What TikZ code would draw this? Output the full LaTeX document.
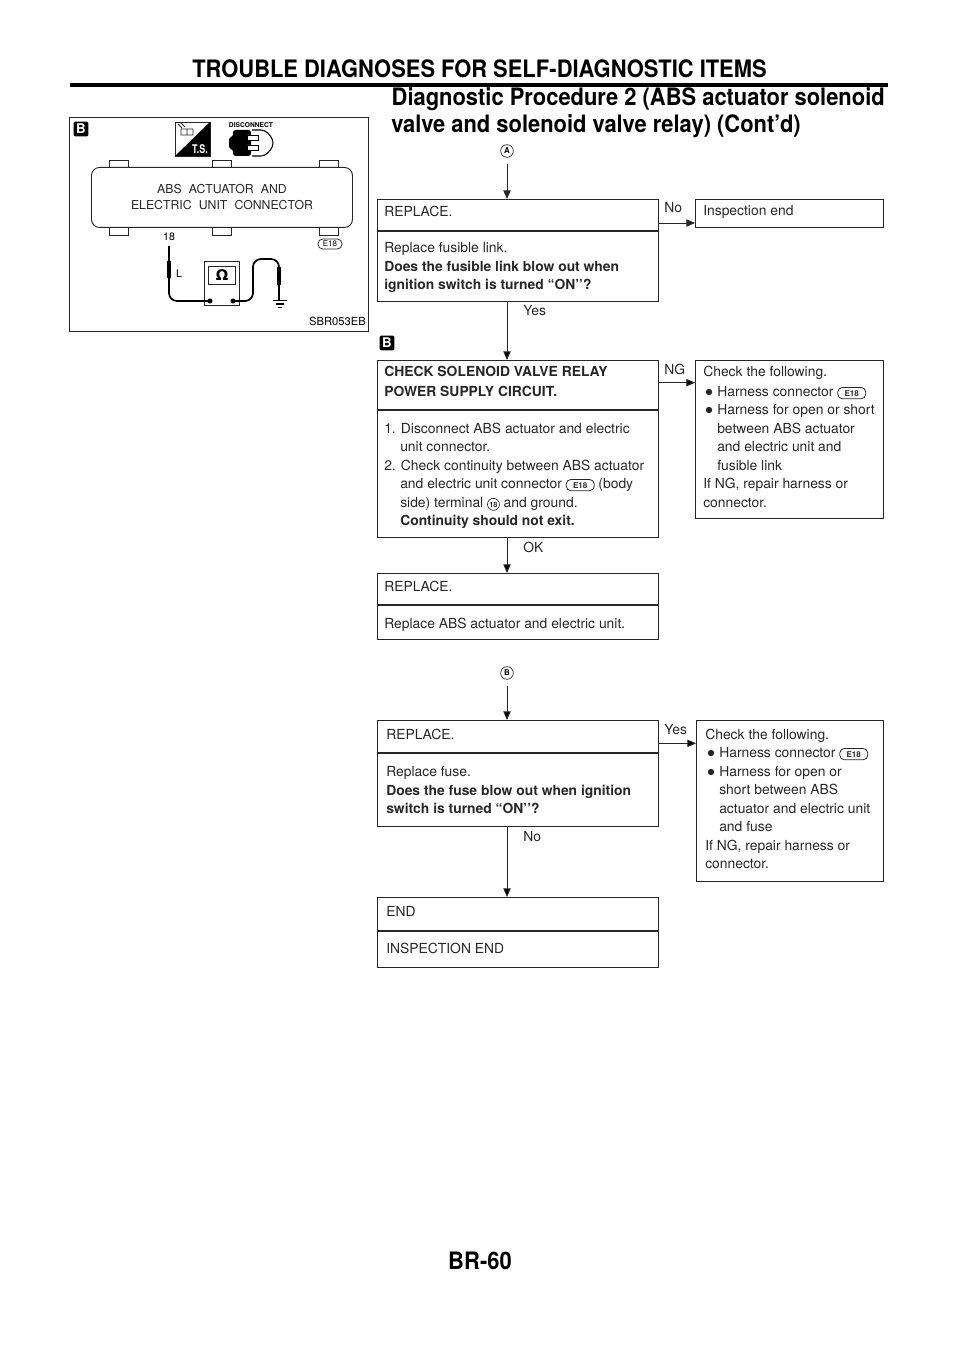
\documentclass[tikz,border=0pt]{standalone}
\usepackage{fontspec}
\setmainfont{TeX Gyre Heros}
\setsansfont{TeX Gyre Heros}
\newfontfamily\symfont{DejaVu Sans}
\usetikzlibrary{arrows.meta}
\tikzset{>=stealth}
\definecolor{inkgray}{gray}{0.15}
\tikzset{
	flowbox/.style 2 args = {draw = inkgray, line width = 0.8pt, inner sep = 0pt, anchor = north west, minimum width = (#1-1)*0.75pt, minimum height = (#2-1)*0.75pt},
	flowline/.style = {draw = inkgray, line width = 0.8pt},
	flowarrow/.style = {draw = inkgray, line width = 0.7pt, -{Triangle[length = 6.5pt, width = 5.5pt]}},
	txt/.style = {inner sep = 0pt, anchor = base west, align = left, text = inkgray, font = \fontsize{10.4}{13.8}\selectfont},
	boldtxt/.style = {txt, font = \fontsize{10.4}{13.8}\selectfont\bfseries},
	headtxt/.style = {inner sep = 0pt, text = black, font = \fontsize{18}{20}\selectfont\bfseries},
	circlemark/.style = {draw = inkgray, circle, line width = 0.5pt, inner sep = 0pt, minimum size = 9.5pt, font = \fontsize{6}{6}\selectfont\bfseries},
	blockmark/.style = {fill = black, rounded corners = 1pt, inner sep = 0pt, minimum size = 11pt, text = white, font = \fontsize{10}{10}\selectfont\bfseries},
	lead/.style = {draw = black, line width = 1.3pt, rounded corners = 6pt},
	sleeve/.style = {draw = black, line width = 3.6pt},
	tab/.style = {draw = inkgray, line width = 0.6pt}
}
\newcommand{\connbadge}{\tikz[baseline = (e.base)] \node[draw = inkgray, rounded corners = 3.5pt, line width = 0.6pt, inner sep = 0pt, minimum width = 21pt, minimum height = 8.5pt, font = \fontsize{6}{6}\selectfont\bfseries] (e) {E18};}
\newcommand{\termmark}{\tikz[baseline = (t.base)] \node[draw = inkgray, circle, line width = 0.5pt, inner sep = 0pt, minimum size = 9pt, font = \fontsize{5.5}{5.5}\selectfont\bfseries] (t) {18};}
\newcommand{\narrowhead}[1]{\scalebox{0.913}[1]{#1}}
\begin{document}
\begin{tikzpicture}[x = 0.75pt, y = -0.75pt]
	\useasboundingbox (0,0) rectangle (960,1358);
	% page heading
	\node[headtxt, anchor = base] (title) at (479.5,78) {\narrowhead{TROUBLE DIAGNOSES FOR SELF-DIAGNOSTIC ITEMS}};
	\fill (70,83) rectangle (888,87);
	\node[headtxt, anchor = base east] (procA) at (885,106) {\narrowhead{Diagnostic Procedure 2 (ABS actuator solenoid}};
	\node[headtxt, anchor = base west] (procB) at (391,133) {\narrowhead{valve and solenoid valve relay) (Cont'd)}};
	\node[headtxt, anchor = base] (pageno) at (480,1269) {\narrowhead{BR-60}};
	% illustration
	\node[flowbox = {300}{215}, line width = 0.7pt] (illus) at (69,117) {};
	\node[blockmark] (illusmark) at (81,129) {B};
	\draw[inkgray, line width = 0.6pt] (175,122) rectangle (210,156);
	\fill (210,122) -- (210,156) -- (175,156) -- cycle;
	\node[inner sep = 0pt, text = white, font = \fontsize{9}{9}\selectfont\bfseries] (tsmark) at (200,149) {\scalebox{0.75}[1]{T.S.}};
	\draw[inkgray, line width = 0.6pt] (181,129) rectangle (187,135) (187,129) rectangle (193,135) (178,124) -- (182,128) (181,123) -- (185,127);
	\node[inner sep = 0pt, font = \fontsize{5}{5}\selectfont\bfseries] (disc) at (251,125) {DISCONNECT};
	\fill[rounded corners = 2pt] (233,130) -- (251,130) -- (251,156) -- (233,156) -- (233,149) -- (229,149) -- (229,137) -- (233,137) -- cycle;
	\draw[black, line width = 0.8pt, rounded corners = 3pt] (252,130) -- (265,130) -- (273,139) -- (273,147) -- (265,156) -- (252,156);
	\draw[black, fill = white, line width = 0.6pt] (247,135) rectangle (258,140) (247,145) rectangle (258,150);
	\foreach \tabx in {109,212,319}
	{
		\draw[tab] (\tabx,167) -- (\tabx,160.5) -- ++(19.5,0) -- (\tabx+19.5,167);
		\draw[tab] (\tabx,228) -- (\tabx,235) -- ++(19.5,0) -- (\tabx+19.5,228);
	}
	\node[flowbox = {262}{61}, rounded corners = 6pt, line width = 0.7pt] (unit) at (91,167) {};
	\node[inner sep = 0pt, align = center, text = inkgray, font = \fontsize{9.2}{12}\selectfont] (unitlabel) at (222,197) {ABS\hspace{0.3em} ACTUATOR\hspace{0.3em} AND\\ELECTRIC\hspace{0.3em} UNIT\hspace{0.3em} CONNECTOR};
	\node[inner sep = 0pt, font = \fontsize{8}{8}\selectfont] (pinlabel) at (169,237) {18};
	\node[inner sep = 0pt, font = \fontsize{8}{8}\selectfont] (wirelabel) at (179,274) {L};
	\node[draw = inkgray, rounded corners = 3.5pt, line width = 0.6pt, inner sep = 0pt, minimum width = 18pt, minimum height = 7.5pt, font = \fontsize{6}{6}\selectfont] (illusconn) at (330,244) {E18};
	\node[inner sep = 0pt, anchor = base east, font = \fontsize{8.4}{8}\selectfont] (partno) at (366,326) {SBR053EB};
	\node[flowbox = {36}{45}] (meter) at (204,261) {};
	\node[flowbox = {28}{19}, font = \fontsize{11}{11}\symfont\bfseries] (dial) at (208,266) {Ω};
	\draw[lead] (169,246) -- (169,301) -- (210,301);
	\draw[lead] (233,301) -- (253,301) -- (253,259) -- (279,259) -- (279,300);
	\draw[sleeve] (169,261) -- (169,278);
	\draw[sleeve] (279,267) -- (279,285);
	\fill (210,301) circle (1.9pt) (233,301) circle (1.9pt);
	\draw[black, line width = 0.9pt] (272.5,300.5) -- (286.5,300.5) (275.5,304) -- (283.5,304) (277.5,307.5) -- (281.5,307.5);
	% first flow
	\node[circlemark] (markA) at (507,151) {A};
	\node[flowbox = {282}{103}] (fuselink) at (377,199) {};
	\draw[flowline] (fuselink.west |- 0,231) -- (fuselink.east |- 0,231);
	\node[txt] (fuselinkhead) at (384,217) {REPLACE.};
	\node[txt] (fuselinktxt) at (384,253) {Replace fusible link.};
	\node[boldtxt] (fuselinkask) at (384,272) {Does the fusible link blow out when};
	\node[boldtxt] (fuselinkaskb) at (384,290) {ignition switch is turned “ON’’?};
	\node[flowbox = {189}{29}] (inspend) at (695,199) {};
	\node[txt] (inspendtxt) at (703,216) {Inspection end};
	\draw[flowarrow] ([yshift = -18pt]fuselink.north east) -- ([yshift = -18pt]inspend.north west);
	\node[txt] (nolabel) at (664,213) {No};
	\node[txt] (yeslabel) at (523,316) {Yes};
	\draw[flowarrow] ([yshift = -4.5pt]markA.south) -- (markA |- fuselink.north);
	\node[blockmark] (flowmark) at (387,343) {B};
	% relay check
	\node[flowbox = {282}{178}] (relay) at (377,360) {};
	\draw[flowline] (relay.west |- 0,410) -- (relay.east |- 0,410);
	\node[boldtxt] (relayhead) at (384,377) {CHECK SOLENOID VALVE RELAY};
	\node[boldtxt] (relayheadb) at (384,396) {POWER SUPPLY CIRCUIT.};
	\node[txt] (relaya) at (384,433) {1. Disconnect ABS actuator and electric};
	\node[txt] (relayb) at (400,451) {unit connector.};
	\node[txt] (relayc) at (384,470) {2. Check continuity between ABS actuator};
	\node[txt] (relayd) at (400,488) {and electric unit connector \connbadge{} (body};
	\node[txt] (relaye) at (400,507) {side) terminal \termmark{} and ground.};
	\node[boldtxt] (relayf) at (400,525) {Continuity should not exit.};
	\node[flowbox = {189}{159}] (relayng) at (695,360) {};
	\node[txt] (relaynga) at (703,377) {Check the following.};
	\foreach \liney/\linetxt in {396/Harness connector \connbadge{},414/Harness for open or short}
	{
		\fill[inkgray] (709,\liney-4) circle (2.4pt);
		\node[txt] at (717,\liney) {\linetxt};
	}
	\foreach \liney/\linetxt in {433/between ABS actuator,451/and electric unit and,470/fusible link}
	\node[txt] at (717,\liney) {\linetxt};
	\node[txt] (relayngb) at (703,488) {If NG, repair harness or};
	\node[txt] (relayngc) at (703,507) {connector.};
	\draw[flowarrow] ([yshift = -17pt]relay.north east) -- ([yshift = -17pt]relayng.north west);
	\node[txt] (nglabel) at (664,374) {NG};
	\node[txt] (oklabel) at (523,552) {OK};
	\draw[flowarrow] (markA |- fuselink.south) -- (markA |- relay.north);
	% actuator replace
	\node[flowbox = {282}{67}] (actuator) at (377,573) {};
	\draw[flowline] (actuator.west |- 0,605) -- (actuator.east |- 0,605);
	\node[txt] (actuatorhead) at (384,591) {REPLACE.};
	\node[txt] (actuatortxt) at (384,628) {Replace ABS actuator and electric unit.};
	\draw[flowarrow] (markA |- relay.south) -- (markA |- actuator.north);
	% second flow
	\node[circlemark] (markB) at (507,673) {B};
	\node[flowbox = {282}{107}] (fuse) at (377,720) {};
	\draw[flowline] (fuse.west |- 0,753) -- (fuse.east |- 0,753);
	\node[txt] (fusehead) at (386,739) {REPLACE.};
	\node[txt] (fusetxt) at (386,776) {Replace fuse.};
	\node[boldtxt] (fuseask) at (386,795) {Does the fuse blow out when ignition};
	\node[boldtxt] (fuseaskb) at (386,813) {switch is turned “ON’’?};
	\node[flowbox = {188}{162}] (fuseyes) at (696,720) {};
	\node[txt] (fuseyesa) at (705,739) {Check the following.};
	\foreach \liney/\linetxt in {757/Harness connector \connbadge{},776/Harness for open or}
	{
		\fill[inkgray] (711,\liney-4) circle (2.4pt);
		\node[txt] at (719,\liney) {\linetxt};
	}
	\foreach \liney/\linetxt in {794/short between ABS,813/actuator and electric unit,831/and fuse}
	\node[txt] at (719,\liney) {\linetxt};
	\node[txt] (fuseyesb) at (705,850) {If NG, repair harness or};
	\node[txt] (fuseyesc) at (705,868) {connector.};
	\draw[flowarrow] ([yshift = -17.5pt]fuse.north east) -- ([yshift = -17.5pt]fuseyes.north west);
	\node[txt] (yeslabelb) at (664,734) {Yes};
	\node[txt] (nolabelb) at (523,841) {No};
	\draw[flowarrow] ([yshift = -4.5pt]markB.south) -- (markB |- fuse.north);
	% end box
	\node[flowbox = {282}{71}] (endbox) at (377,897) {};
	\draw[flowline] (endbox.west |- 0,931) -- (endbox.east |- 0,931);
	\node[txt] (endhead) at (386,916) {END};
	\node[txt] (endtxt) at (386,953) {INSPECTION END};
	\draw[flowarrow] (markB |- fuse.south) -- (markB |- endbox.north);
\end{tikzpicture}
\end{document}
